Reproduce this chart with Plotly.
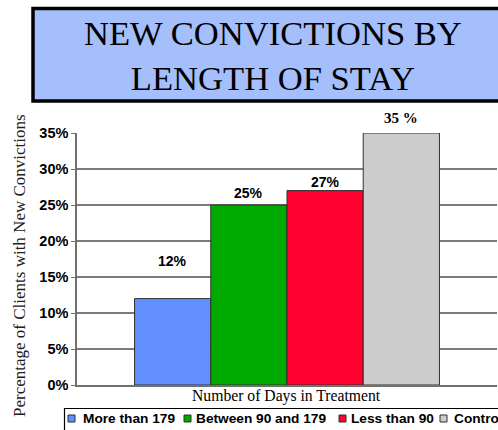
import plotly.graph_objects as go

# chart data
groups = ['More than 179', 'Between 90 and 179', 'Less than 90', 'Control']
rates = [12, 25, 27, 35]
bar_labels = ['12%', '25%', '27%', '35 %']
colors = ['#6390ff', '#00aa00', '#ff0030', '#cccccc']
y_ticks = [0, 5, 10, 15, 20, 25, 30, 35]

W, H = 498, 430
L, R, T, B = 77, 1, 133, 45
pw, ph = W - L - R, H - T - B


def px(x):  # pixel -> paper x
    return (x - L) / pw


def py(y):  # pixel -> paper y
    return (H - B - y) / ph


fig = go.Figure()
for g, v, c in zip(groups, rates, colors):
    fig.add_trace(go.Bar(x=[g], y=[v], name=g, width=1, marker_color=c,
                         marker_line=dict(color='#303030', width=1), showlegend=False))

# labels above the bars (pixel lift differs per bar in the original)
label_lift = [38, 12, 9, 15]
label_fonts = ['Liberation Sans', 'Liberation Sans', 'Liberation Sans', 'Liberation Serif']
for g, v, t, s, f in zip(groups, rates, bar_labels, label_lift, label_fonts):
    fig.add_annotation(x=g, y=v, text='<b>' + t + '</b>', showarrow=False, yanchor='middle',
                       yshift=s, font=dict(family=f, size=15 if 'Serif' in f else 14, color='black'))

shapes = []
# title box
shapes.append(dict(type='rect', xref='paper', yref='paper', x0=px(33), x1=px(520), y0=py(101), y1=py(8.5),
                   fillcolor='#a4bffb', line=dict(color='black', width=3.5), layer='above'))
# legend box
shapes.append(dict(type='rect', xref='paper', yref='paper', x0=px(64.5), x1=px(520), y0=py(436), y1=py(408.5),
                   fillcolor='white', line=dict(color='black', width=1.2)))
leg_sq = [68, 184, 339, 440]
leg_tx = [81, 194, 349, 452]
for sx, tx, g, c in zip(leg_sq, leg_tx, groups, colors):
    shapes.append(dict(type='rect', xref='paper', yref='paper', x0=px(sx), x1=px(sx + 7),
                       y0=py(422), y1=py(415), fillcolor=c, line=dict(color='#303030', width=1)))
    fig.add_annotation(xref='paper', yref='paper', x=px(tx), y=py(418.5), xanchor='left', yanchor='middle',
                       text='<b>' + g + '</b>', showarrow=False,
                       font=dict(family='Liberation Sans', size=13.7, color='black'))

fig.add_annotation(xref='paper', yref='paper', x=px(273), y=py(55), xanchor='center', yanchor='middle',
                   text='NEW CONVICTIONS BY<br>LENGTH OF STAY',
                   showarrow=False, font=dict(family='Liberation Serif', size=34.6, color='black'))
fig.add_annotation(xref='paper', yref='paper', x=px(286), y=py(396), xanchor='center', yanchor='middle',
                   text='Number of Days in Treatment',
                   showarrow=False, font=dict(family='Liberation Serif', size=15.7, color='black'))
fig.add_annotation(xref='paper', yref='paper', x=px(19), y=py(266), xanchor='center', yanchor='middle',
                   textangle=-90, text='Percentage of Clients with New Convictions',
                   showarrow=False, font=dict(family='Liberation Serif', size=17, color='#202020'))

fig.update_layout(
    width=W, height=H, margin=dict(l=L, r=R, t=T, b=B),
    paper_bgcolor='white', plot_bgcolor='white', barmode='overlay',
    shapes=shapes,
    xaxis=dict(type='category', range=[-1.255, 4.255], showticklabels=False, showgrid=False,
               showline=True, linecolor='#707070', linewidth=1.5, ticks=''),
    yaxis=dict(range=[0, 35], tickvals=y_ticks, ticktext=['<b>%d%%</b>' % v for v in y_ticks],
               tickfont=dict(family='Liberation Sans', size=14.5, color='black'),
               showgrid=True, gridcolor='#7a7a7a', gridwidth=1.5, zeroline=False,
               showline=True, linecolor='#707070', linewidth=1.5, ticks='outside', ticklen=4,
               tickcolor='#707070'),
)

fig.write_html("out.html", config={'displayModeBar': False},
               post_script="document.body.style.margin='0';")
